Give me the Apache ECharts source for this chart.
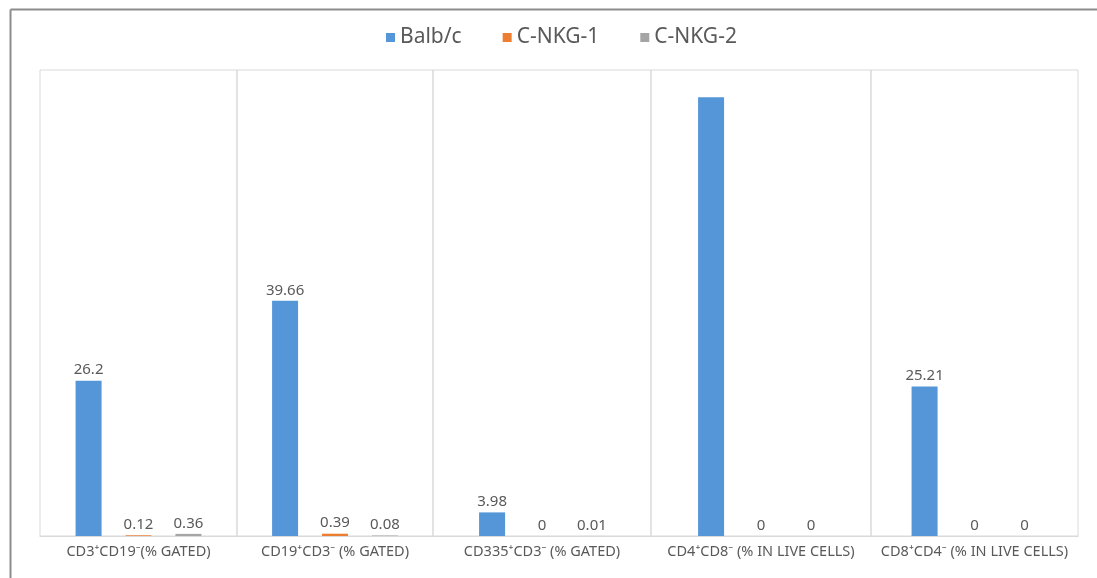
<!DOCTYPE html>
<html>
<head>
<meta charset="utf-8">
<script src="https://cdn.jsdelivr.net/npm/echarts@6/dist/echarts.min.js"></script>
<style>
  html, body { margin: 0; padding: 0; background: #fff; }
  #chart { width: 1097px; height: 578px; }
</style>
</head>
<body>
<div id="chart"></div>
<script>
// 分类（每个面板一个）
var categories = [
  'CD3⁺CD19⁻(% GATED)',
  'CD19⁺CD3⁻ (% GATED)',
  'CD335⁺CD3⁻ (% GATED)',
  'CD4⁺CD8⁻ (% IN LIVE CELLS)',
  'CD8⁺CD4⁻ (% IN LIVE CELLS)'
];
var seriesNames = ['Balb/c', 'C-NKG-1', 'C-NKG-2'];
var balbc = [26.2, 39.66, 3.98, 74, 25.21];
var cnkg1 = [0.12, 0.39, 0, 0, 0];
var cnkg2 = [0.36, 0.08, 0.01, 0, 0];
// 第4个面板的 Balb/c 没有数据标签
var hideLabel = [false, false, false, true, false];

var colors = ['#5596d8', '#ed7d31', '#a5a5a5'];
var panelEdges = [40, 237, 433, 651, 871, 1078];
var font = "'Noto Sans', sans-serif";

var myEcharts = echarts.init(document.getElementById('chart'));

var grids = [], xAxes = [], yAxes = [], series = [];
var allData = [balbc, cnkg1, cnkg2];
for (var i = 0; i < categories.length; i++) {
  grids.push({
    left: panelEdges[i],
    width: panelEdges[i + 1] - panelEdges[i],
    top: 70,
    bottom: 42,
    show: true,
    borderColor: '#d9d9d9',
    borderWidth: 1
  });
  xAxes.push({
    type: 'category',
    gridIndex: i,
    data: [categories[i]],
    axisTick: { show: false },
    axisLine: { lineStyle: { color: '#d9d9d9' } },
    axisLabel: { color: '#595959', fontSize: 14.5, fontFamily: font, margin: 8 }
  });
  yAxes.push({
    type: 'value',
    gridIndex: i,
    min: 0,
    max: 78.6,
    show: false,
    splitLine: { show: false }
  });
  for (var s = 0; s < 3; s++) {
    series.push({
      name: seriesNames[s],
      type: 'bar',
      xAxisIndex: i,
      yAxisIndex: i,
      barWidth: 26,
      barGap: '92%',
      itemStyle: { color: colors[s] },
      label: {
        show: !(s === 0 && hideLabel[i]),
        position: 'top',
        distance: 3,
        color: '#595959',
        fontSize: 15,
        fontFamily: font
      },
      data: [allData[s][i]]
    });
  }
}

myEcharts.setOption({
  animation: false,
  backgroundColor: '#fff',
  legend: {
    data: seriesNames,
    top: 22,
    left: 381,
    itemWidth: 9,
    itemHeight: 9,
    itemGap: 41,
    icon: 'rect',
    textStyle: { color: '#595959', fontSize: 21, fontFamily: font }
  },
  graphic: [
    { type: 'line', shape: { x1: 10.5, y1: 9.5, x2: 1097, y2: 9.5 }, style: { stroke: '#8c8c8c', lineWidth: 2 } },
    { type: 'line', shape: { x1: 10.5, y1: 9.5, x2: 10.5, y2: 578 }, style: { stroke: '#8c8c8c', lineWidth: 2 } }
  ],
  grid: grids,
  xAxis: xAxes,
  yAxis: yAxes,
  series: series
});
window.addEventListener('resize', function () {
  myEcharts.resize();
});
</script>
</body>
</html>
